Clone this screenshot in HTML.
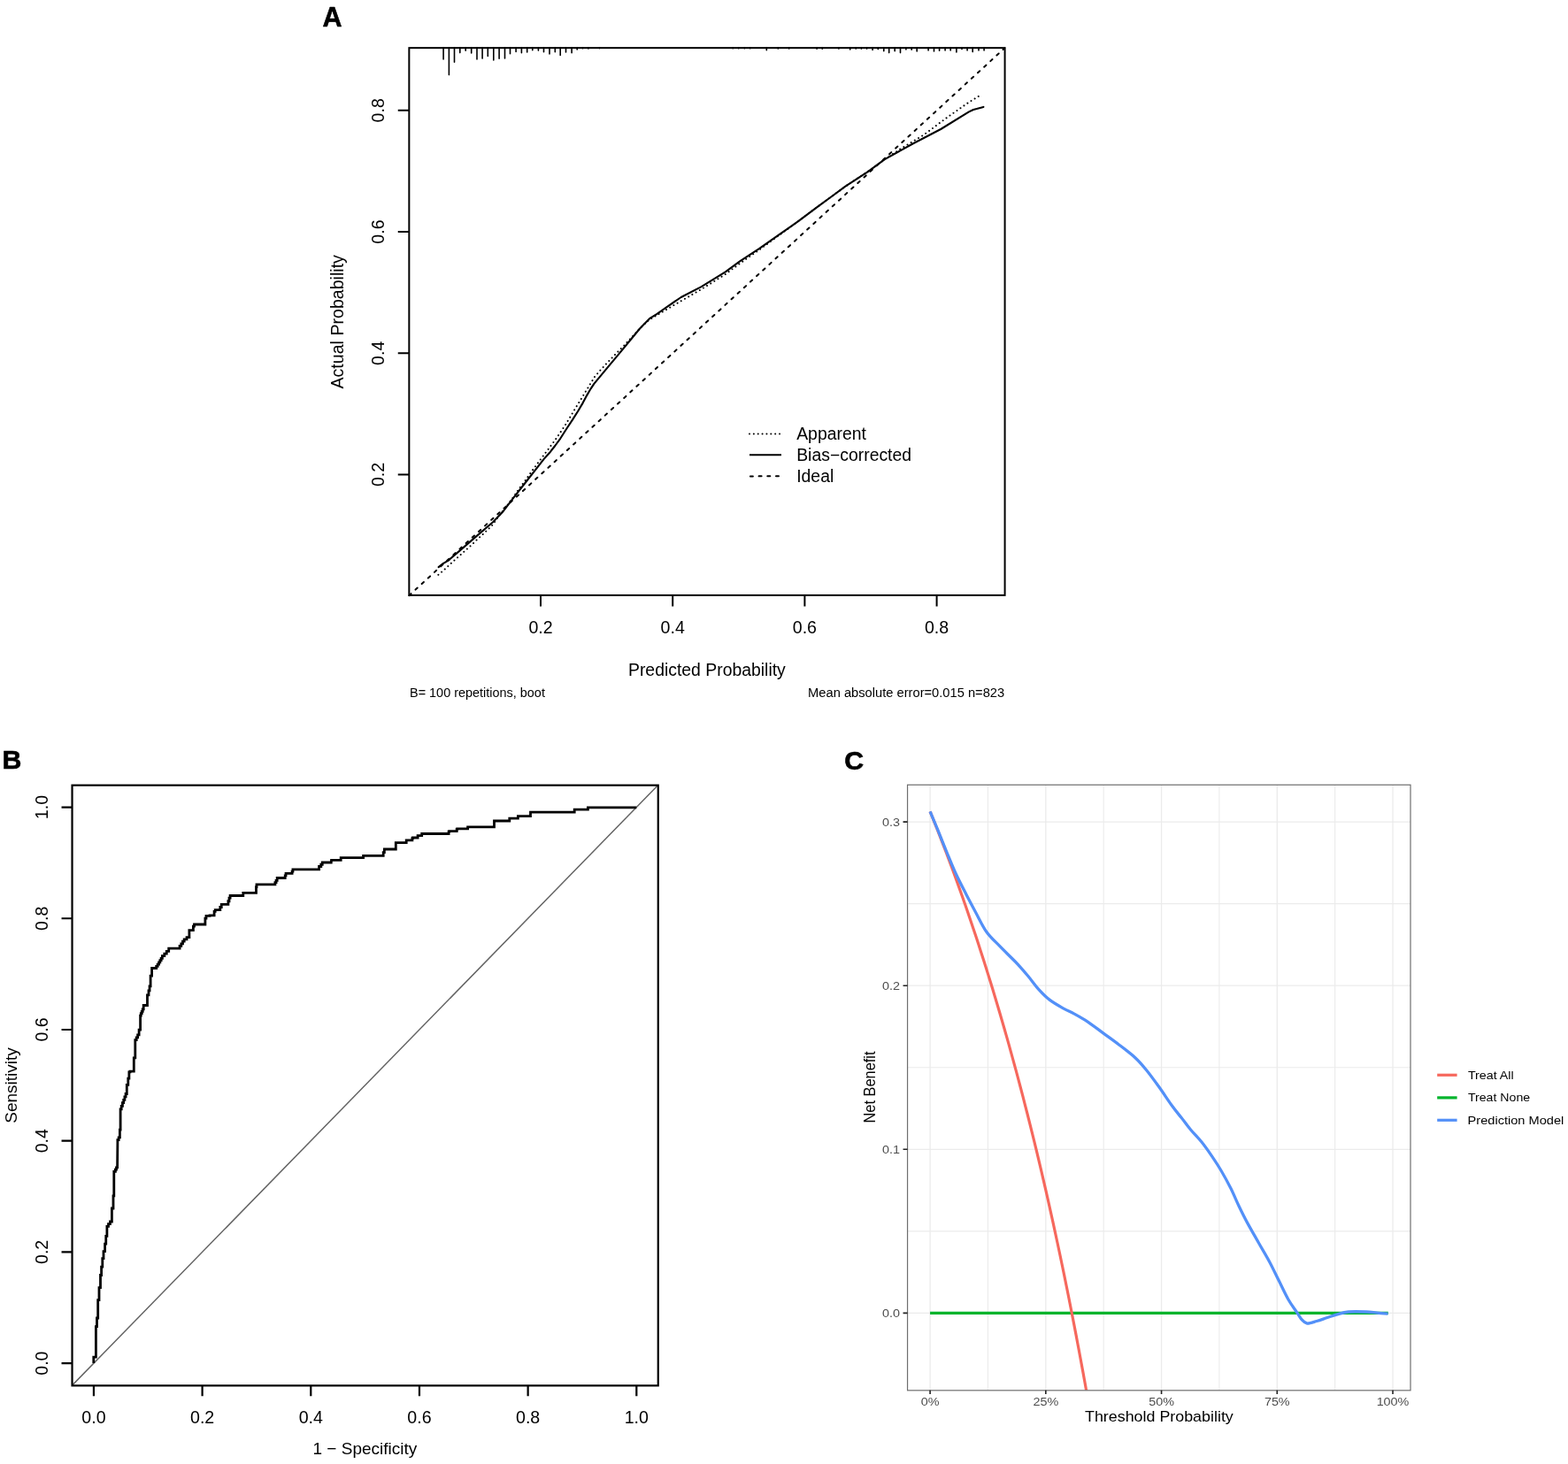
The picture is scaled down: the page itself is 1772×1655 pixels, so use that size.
<!DOCTYPE html>
<html><head><meta charset="utf-8"><title>Figure</title>
<style>
html,body{margin:0;padding:0;background:#fff;}
svg{display:block;}
text{font-family:"Liberation Sans", sans-serif;}
</style></head><body>
<svg width="1772" height="1655" viewBox="0 0 1772 1655">
<rect width="1772" height="1655" fill="#fff"/>
<g id="pa">
<path d="M501.1 54.16V67M507.4 54.16V84.6M513.5 54.16V70.2M519.8 54.16V59.6M526.2 54.16V57.3M532.7 54.16V60M539 54.16V67M545.1 54.16V66.1M551.3 54.16V63.4M557.8 54.16V67.9M564.1 54.16V66.3M570.5 54.16V66M576.5 54.16V60.7M583.1 54.16V58.4M589.4 54.16V59.8M595.7 54.16V58.9M601.8 54.16V56.8M608.4 54.16V57.1M614.5 54.16V58.7M621 54.16V60.9M627.3 54.16V58.7M633.2 54.16V62.5M639.5 54.16V58.9M646.1 54.16V59.7M652.2 54.16V55.9M658.5 54.16V54.8M664.9 54.16V55M677.5 54.16V54.6M828.2 54.16V54.8M834.7 54.16V54.8M841.4 54.16V54.8M847.7 54.16V54.8M866.3 54.16V56.8M879.3 54.16V55M891.7 54.16V55M923.1 54.16V55.3M929.3 54.16V55.3M947.9 54.16V55.1M960.7 54.16V55.9M967.2 54.16V55.1M973.4 54.16V55.1M979.6 54.16V55.1M986.1 54.16V56.5M992.3 54.16V55.6M998.8 54.16V57.7M1004.7 54.16V59.6M1011.2 54.16V57.7M1017.5 54.16V59.6M1023.9 54.16V55.9M1030.2 54.16V56.2M1036.2 54.16V57.9M1049.1 54.16V56.9M1055.5 54.16V57.9M1061.6 54.16V57.3M1068.1 54.16V56.9M1074.2 54.16V56.9M1080.9 54.16V59M1087 54.16V55.6M1093.1 54.16V56.9M1099.2 54.16V58.6M1106 54.16V56.9M1112.1 54.16V56.9" stroke="#000" stroke-width="1.6" fill="none" stroke-linecap="round"/>
<line x1="462.4" y1="673.15" x2="1135.2" y2="54.5" stroke="#000" stroke-width="2" stroke-dasharray="3 6.7" stroke-linecap="round"/>
<polyline points="495.6,641.1 501,636.9 506.7,633.6 520,622.1 535,609.1 557.3,590 568,578.8 580.2,562.8 595,544 614.5,519.1 621.1,511.8 627.2,504 633.2,495.8 639.9,485.3 647.1,474.4 653.2,464.7 658.6,455.6 663.4,446.6 667.7,439.3 671.3,433.9 685,417.4 699,400.6 712.3,384.5 723,371.5 734,360.2 742.5,354.8 754.6,346.3 769.7,336 792.6,324.1 819.8,307.3 836.1,295.3 857.9,281.2 879.6,265.9 901.4,250.7 923.1,234.4 940,222 955.4,210.7 980.8,194.2 999.8,180.2 1031.5,162.5 1063.2,146 1095,126.4 1100,124 1111.4,120.9" fill="none" stroke="#000" stroke-width="2.1" stroke-linejoin="round" stroke-linecap="round"/>
<polyline points="495.4,649.8 502.9,643.3 510.1,636.5 517.4,630 524.6,623.5 531.9,617 539.1,610 546.4,603.4 553.6,596.4 557,593 565.5,581 571.5,573.7 579.4,562.8 586.6,552.6 594.7,541.7 600.4,533.5 606.4,525.4 612.4,517.3 618.4,509.4 624.5,501.3 630.2,493.4 635.6,485.3 641.1,476.8 646.2,468.3 651.4,459.6 656.5,451.4 661.6,443 666.8,434.5 672.2,425.7 678.5,418.5 685.1,411.3 692.1,404 699,396.8 702.6,393.4 712.3,383 721.4,373.2 730.4,364.2 737.7,359 745.8,354.2 754.3,349.3 762.8,344.2 767,341.8 792.6,327 819.8,310 836.1,297.8 857.9,282.5 879.6,266.5 901.4,250.7 923.1,234.4 955.4,210.7 980.8,194 999.8,180 1018.8,167.6 1044.2,152.3 1069.6,133.3 1095,115.5 1107.6,107.9" fill="none" stroke="#000" stroke-width="2" stroke-dasharray="0.01 4.85" stroke-linecap="round" stroke-linejoin="round"/>
<rect x="462.35" y="54.16" width="673.23" height="618.74" fill="none" stroke="#000" stroke-width="2"/>
<path d="M611 672.9V685.5M760.2 672.9V685.5M909.4 672.9V685.5M1058.6 672.9V685.5M462.35 536.48H449.75M462.35 399.26H449.75M462.35 262.04H449.75M462.35 124.82H449.75" stroke="#000" stroke-width="2" fill="none"/>
<text x="611" y="716.2" font-size="19.6" text-anchor="middle" fill="#000">0.2</text>
<text x="760.2" y="716.2" font-size="19.6" text-anchor="middle" fill="#000">0.4</text>
<text x="909.4" y="716.2" font-size="19.6" text-anchor="middle" fill="#000">0.6</text>
<text x="1058.6" y="716.2" font-size="19.6" text-anchor="middle" fill="#000">0.8</text>
<text x="434.5" y="536.48" font-size="19.6" text-anchor="middle" fill="#000" transform="rotate(-90 434.5 536.48)">0.2</text>
<text x="434.5" y="399.26" font-size="19.6" text-anchor="middle" fill="#000" transform="rotate(-90 434.5 399.26)">0.4</text>
<text x="434.5" y="262.04" font-size="19.6" text-anchor="middle" fill="#000" transform="rotate(-90 434.5 262.04)">0.6</text>
<text x="434.5" y="124.82" font-size="19.6" text-anchor="middle" fill="#000" transform="rotate(-90 434.5 124.82)">0.8</text>
<text x="798.9" y="763.9" font-size="19.4" text-anchor="middle" fill="#000">Predicted Probability</text>
<text x="387.7" y="363.8" font-size="19.6" text-anchor="middle" fill="#000" transform="rotate(-90 387.7 363.8)">Actual Probability</text>
<text x="463" y="788.1" font-size="14.45" text-anchor="start" fill="#000">B= 100 repetitions, boot</text>
<text x="1135.2" y="788.3" font-size="14.7" text-anchor="end" fill="#000">Mean absolute error=0.015 n=823</text>
<text x="364.5" y="30" font-size="30.5" text-anchor="start" fill="#000" font-weight="bold" stroke="#000" stroke-width="0.6" stroke-linejoin="round">A</text>
<line x1="847" y1="490.5" x2="883" y2="490.5" stroke="#000" stroke-width="2" stroke-dasharray="0.01 4.85" stroke-linecap="round"/>
<line x1="847" y1="514.3" x2="883" y2="514.3" stroke="#000" stroke-width="2.1"/>
<line x1="847.9" y1="538.4" x2="883" y2="538.3" stroke="#000" stroke-width="2" stroke-dasharray="3 6.7" stroke-linecap="round"/>
<text x="900.2" y="497.4" font-size="19.4" text-anchor="start" fill="#000">Apparent</text>
<text x="900.2" y="521.1" font-size="19.4" text-anchor="start" fill="#000">Bias−corrected</text>
<text x="900.2" y="545.1" font-size="19.4" text-anchor="start" fill="#000">Ideal</text>
</g>
<g id="pb">
<line x1="81.53" y1="1566.12" x2="743.72" y2="887.54" stroke="#626262" stroke-width="1.45"/>
<polyline points="105.8,1540.9 105.8,1534.2 108.4,1534.2 108.4,1513.7 108.4,1499.6 109.5,1499.6 109.5,1490 110.7,1490 110.7,1469.7 112,1469.7 112,1455.6 113.5,1455.6 113.5,1441.5 114.6,1441.5 114.6,1432.05 115.8,1432.05 115.8,1422.6 117,1422.6 117,1414.7 118.6,1414.7 118.6,1406.05 119.75,1406.05 119.75,1397.4 120.9,1397.4 120.9,1386.4 122.5,1386.4 122.5,1383.7 124.45,1383.7 124.45,1381 126.4,1381 126.4,1366 128,1366 128,1351.9 128.8,1351.9 128.8,1324.4 130.4,1324.4 130.4,1322.1 131.5,1322.1 131.5,1319.8 132.6,1319.8 132.9,1291.6 132.9,1288.7 134.15,1288.7 134.15,1285.8 135.4,1285.8 135.4,1277.1 136.1,1277.1 136.1,1253.9 137.2,1253.9 137.2,1250.3 138.45,1250.3 138.45,1246.7 139.7,1246.7 139.7,1243.3 140.9,1243.3 140.9,1239.9 142.1,1239.9 142.1,1236.5 143.3,1236.5 143.3,1226.4 144.8,1226.4 144.8,1219.15 145.9,1219.15 145.9,1211.9 147,1211.9 147,1211.2 151.3,1211.2 151.3,1195.9 152.8,1195.9 152.8,1175.7 154.2,1175.7 154.2,1172.8 155.65,1172.8 155.65,1169.9 157.1,1169.9 157.1,1164.1 158.6,1164.1 158.6,1148.1 159.3,1148.1 159.3,1145.7 160.27,1145.7 160.27,1143.3 161.23,1143.3 161.23,1140.9 162.2,1140.9 162.2,1136.5 163.6,1136.5 166.5,1136.5 166.5,1124.9 168,1124.9 168,1119.85 169.05,1119.85 169.05,1114.8 170.1,1114.8 170.1,1103.2 171.6,1103.2 171.6,1094.5 172.3,1094.5 176.7,1094.5 176.7,1092.3 178.15,1092.3 178.15,1090.1 179.6,1090.1 179.6,1087.83 180.87,1087.83 180.87,1085.57 182.13,1085.57 182.13,1083.3 183.4,1083.3 183.4,1080.67 185.83,1080.67 185.83,1078.03 188.27,1078.03 188.27,1075.4 190.7,1075.4 190.7,1072.1 203.1,1072.1 203.1,1069.47 204.8,1069.47 204.8,1066.83 206.5,1066.83 206.5,1064.2 208.2,1064.2 208.2,1061.9 211.05,1061.9 211.05,1059.6 213.9,1059.6 213.9,1052.3 213.9,1051.7 218.4,1051.7 218.4,1047.2 219.5,1047.2 219.5,1045 225.1,1045 231.9,1045 231.9,1038.2 233,1038.2 233,1035.4 237,1035.4 237,1034.8 242.1,1034.8 242.1,1030.3 243.2,1030.3 243.2,1028.6 248.8,1028.6 248.8,1025.5 250.25,1025.5 250.25,1022.4 251.7,1022.4 257.9,1022.4 257.9,1018.75 259,1018.75 259,1015.1 260.1,1015.1 260.1,1012.5 264.6,1012.5 274.8,1012.5 274.8,1009.4 275.9,1009.4 289.5,1009.4 289.5,1002.6 290,1002.6 290,999.8 292.9,999.8 310.9,999.8 310.9,997.55 312.05,997.55 312.05,995.3 313.2,995.3 313.2,992.5 322.2,992.5 322.2,989.95 323.05,989.95 323.05,987.4 323.9,987.4 330.1,987.4 330.1,985.15 330.95,985.15 330.95,982.9 331.8,982.9 360.6,982.9 360.6,979.5 362.8,979.5 362.8,977.25 364.25,977.25 364.25,975 365.7,975 374.3,975 374.5,972.4 385.2,972.4 385.2,969.6 385.8,969.6 410.6,969.6 410.6,967.3 411.2,967.3 433.2,967.3 433.2,963.65 434.35,963.65 434.35,960 435.5,960 447.3,960 447.3,952.6 447.9,952.6 459.2,952.6 459.2,949.8 459.7,949.8 465.9,949.8 465.9,947.6 466.5,947.6 466.5,947 472.1,947 472.1,944.7 473.3,944.7 476.7,944.7 476.7,942.5 477.2,942.5 507.1,942.5 507.1,940.2 507.7,940.2 507.7,939.7 516.2,939.7 516.2,937.4 516.7,937.4 516.7,936.8 528.6,936.8 528.6,934.9 529.1,934.9 558.5,934.9 558.5,928 559.1,928 575.8,928 575.8,925.1 576.4,925.1 585.4,925.1 585.4,922.7 586,922.7 599.5,922.7 599.5,918.1 600.1,918.1 649.2,918.1 649.2,915.2 649.7,915.2 664.4,915.2 664.4,912.8 665,912.8 719.3,912.8" fill="none" stroke="#000" stroke-width="2.8" stroke-linejoin="miter"/>
<rect x="81.54" y="887.7" width="662.21" height="678.67" fill="none" stroke="#000" stroke-width="2.2"/>
<path d="M105.94 1566.37V1578.37M81.54 1541.1H69.54M228.61 1566.37V1578.37M81.54 1415.39H69.54M351.29 1566.37V1578.37M81.54 1289.68H69.54M473.96 1566.37V1578.37M81.54 1163.98H69.54M596.64 1566.37V1578.37M81.54 1038.27H69.54M719.31 1566.37V1578.37M81.54 912.56H69.54" stroke="#000" stroke-width="2.2" fill="none"/>
<text x="105.94" y="1608.7" font-size="19.6" text-anchor="middle" fill="#000">0.0</text>
<text x="54" y="1541.1" font-size="19.6" text-anchor="middle" fill="#000" transform="rotate(-90 54 1541.1)">0.0</text>
<text x="228.61" y="1608.7" font-size="19.6" text-anchor="middle" fill="#000">0.2</text>
<text x="54" y="1415.39" font-size="19.6" text-anchor="middle" fill="#000" transform="rotate(-90 54 1415.39)">0.2</text>
<text x="351.29" y="1608.7" font-size="19.6" text-anchor="middle" fill="#000">0.4</text>
<text x="54" y="1289.68" font-size="19.6" text-anchor="middle" fill="#000" transform="rotate(-90 54 1289.68)">0.4</text>
<text x="473.96" y="1608.7" font-size="19.6" text-anchor="middle" fill="#000">0.6</text>
<text x="54" y="1163.98" font-size="19.6" text-anchor="middle" fill="#000" transform="rotate(-90 54 1163.98)">0.6</text>
<text x="596.64" y="1608.7" font-size="19.6" text-anchor="middle" fill="#000">0.8</text>
<text x="54" y="1038.27" font-size="19.6" text-anchor="middle" fill="#000" transform="rotate(-90 54 1038.27)">0.8</text>
<text x="719.31" y="1608.7" font-size="19.6" text-anchor="middle" fill="#000">1.0</text>
<text x="54" y="912.56" font-size="19.6" text-anchor="middle" fill="#000" transform="rotate(-90 54 912.56)">1.0</text>
<text x="412.4" y="1643.8" font-size="19" text-anchor="middle" fill="#000">1 − Specificity</text>
<text x="19" y="1227" font-size="19" text-anchor="middle" fill="#000" transform="rotate(-90 19 1227)">Sensitivity</text>
<text x="2.6" y="869.4" font-size="30.3" text-anchor="start" fill="#000" font-weight="bold" stroke="#000" stroke-width="0.6" stroke-linejoin="round">B</text>
</g>
<g id="pc">
<rect x="1025.55" y="887.25" width="568.45" height="684.55" fill="#fff"/>
<path d="M1116.46 887.25V1571.8M1247.19 887.25V1571.8M1377.91 887.25V1571.8M1508.64 887.25V1571.8M1025.55 1391.85H1594M1025.55 1206.75H1594M1025.55 1021.65H1594" stroke="#EBEBEB" stroke-width="1.1" fill="none"/>
<path d="M1051.1 887.25V1571.8M1181.82 887.25V1571.8M1312.55 887.25V1571.8M1443.27 887.25V1571.8M1574 887.25V1571.8M1025.55 1484.4H1594M1025.55 1299.3H1594M1025.55 1114.2H1594M1025.55 929.1H1594" stroke="#EBEBEB" stroke-width="1.3" fill="none"/>
<line x1="1051.1" y1="1484.4" x2="1568.7" y2="1484.4" stroke="#00B42C" stroke-width="3.2"/>
<clipPath id="cc"><rect x="1025.55" y="887.25" width="568.45" height="684.55"/></clipPath>
<polyline clip-path="url(#cc)" points="1051.1,917.44 1053.71,923.89 1056.33,930.41 1058.94,936.99 1061.56,943.64 1064.17,950.36 1066.79,957.15 1069.4,964.01 1072.02,970.94 1074.63,977.94 1077.24,985.02 1079.86,992.17 1082.47,999.4 1085.09,1006.7 1087.7,1014.09 1090.32,1021.55 1092.93,1029.09 1095.55,1036.72 1098.16,1044.43 1100.78,1052.23 1103.39,1060.11 1106,1068.08 1108.62,1076.14 1111.23,1084.29 1113.85,1092.53 1116.46,1100.87 1119.08,1109.31 1121.69,1117.84 1124.31,1126.47 1126.92,1135.2 1129.53,1144.03 1132.15,1152.97 1134.76,1162.02 1137.38,1171.17 1139.99,1180.43 1142.61,1189.81 1145.22,1199.3 1147.84,1208.91 1150.45,1218.63 1153.07,1228.48 1155.68,1238.45 1158.29,1248.54 1160.91,1258.77 1163.52,1269.12 1166.14,1279.6 1168.75,1290.22 1171.37,1300.98 1173.98,1311.88 1176.6,1322.92 1179.21,1334.11 1181.83,1345.45 1184.44,1356.94 1187.05,1368.59 1189.67,1380.39 1192.28,1392.36 1194.9,1404.49 1197.51,1416.79 1200.13,1429.26 1202.74,1441.91 1205.36,1454.73 1207.97,1467.74 1210.58,1480.94 1213.2,1494.33 1215.81,1507.91 1218.43,1521.69 1221.04,1535.68 1223.66,1549.88 1226.27,1564.29 1228.89,1578.91" fill="none" stroke="#F6685D" stroke-width="3.2" stroke-linejoin="round"/>
<path d="M1051.1 917.4C1052.67 921.15 1057.32 932.13 1060.5 939.9C1063.68 947.67 1066.97 956.15 1070.2 964C1073.43 971.85 1076.27 979.13 1079.9 987C1083.53 994.87 1088.18 1003.75 1092 1011.2C1095.82 1018.65 1098.98 1024.65 1102.8 1031.7C1106.62 1038.75 1110.47 1047.25 1114.9 1053.5C1119.33 1059.75 1124.77 1064.37 1129.4 1069.2C1134.03 1074.03 1139.27 1079.05 1142.7 1082.5C1146.13 1085.95 1146.77 1086.35 1150 1089.9C1153.23 1093.45 1158.07 1098.97 1162.1 1103.8C1166.13 1108.63 1170.17 1114.47 1174.2 1118.9C1178.23 1123.33 1181.67 1126.87 1186.3 1130.4C1190.93 1133.93 1197.38 1137.48 1202 1140.1C1206.62 1142.72 1209.58 1143.68 1214 1146.1C1218.42 1148.52 1223.05 1150.97 1228.5 1154.6C1233.95 1158.23 1240.65 1163.47 1246.7 1167.9C1252.75 1172.33 1258.77 1176.57 1264.8 1181.2C1270.83 1185.83 1277.87 1191.07 1282.9 1195.7C1287.93 1200.33 1290.57 1203.57 1295 1209C1299.43 1214.43 1304.58 1221.47 1309.5 1228.3C1314.42 1235.13 1320.23 1244.12 1324.5 1250C1328.77 1255.88 1331.57 1259.07 1335.1 1263.6C1338.63 1268.13 1341.92 1272.67 1345.7 1277.2C1349.48 1281.73 1353.78 1285.77 1357.8 1290.8C1361.82 1295.83 1366.03 1301.87 1369.8 1307.4C1373.57 1312.93 1376.87 1317.97 1380.4 1324C1383.93 1330.03 1387.73 1337.05 1391 1343.6C1394.27 1350.15 1396.98 1357 1400 1363.3C1403.02 1369.6 1405.32 1374.37 1409.1 1381.4C1412.88 1388.43 1418.42 1397.95 1422.7 1405.5C1426.98 1413.05 1431.03 1419.65 1434.8 1426.7C1438.57 1433.75 1441.78 1440.75 1445.3 1447.8C1448.82 1454.85 1452.62 1463.2 1455.9 1469C1459.18 1474.8 1462.48 1478.83 1465 1482.6C1467.52 1486.37 1468.98 1489.37 1471 1491.6C1473.02 1493.83 1474.27 1495.68 1477.1 1496C1479.93 1496.32 1484.32 1494.53 1488 1493.5C1491.68 1492.47 1495.47 1491.03 1499.2 1489.8C1502.93 1488.57 1506.27 1487.23 1510.4 1486.1C1514.53 1484.97 1518.42 1483.52 1524 1483C1529.58 1482.48 1538.52 1482.8 1543.9 1483C1549.28 1483.2 1552.2 1483.83 1556.3 1484.2C1560.4 1484.57 1566.47 1485.03 1568.5 1485.2" fill="none" stroke="#5390F8" stroke-width="3.3" stroke-linejoin="round"/>
<rect x="1025.55" y="887.25" width="568.45" height="684.55" fill="none" stroke="#6e6e6e" stroke-width="1.2"/>
<path d="M1051.1 1571.8V1576.1M1181.82 1571.8V1576.1M1312.55 1571.8V1576.1M1443.27 1571.8V1576.1M1574 1571.8V1576.1M1025.55 1484.4H1020.55M1025.55 1299.3H1020.55M1025.55 1114.2H1020.55M1025.55 929.1H1020.55" stroke="#222222" stroke-width="1.6" fill="none"/>
<text x="1051.1" y="1589" font-size="12.6" text-anchor="middle" fill="#4D4D4D" transform="translate(1051.1 1589) scale(1.14 1) translate(-1051.1 -1589)">0%</text>
<text x="1181.82" y="1589" font-size="12.6" text-anchor="middle" fill="#4D4D4D" transform="translate(1181.82 1589) scale(1.14 1) translate(-1181.82 -1589)">25%</text>
<text x="1312.55" y="1589" font-size="12.6" text-anchor="middle" fill="#4D4D4D" transform="translate(1312.55 1589) scale(1.14 1) translate(-1312.55 -1589)">50%</text>
<text x="1443.27" y="1589" font-size="12.6" text-anchor="middle" fill="#4D4D4D" transform="translate(1443.27 1589) scale(1.14 1) translate(-1443.27 -1589)">75%</text>
<text x="1574" y="1589" font-size="12.6" text-anchor="middle" fill="#4D4D4D" transform="translate(1574 1589) scale(1.14 1) translate(-1574 -1589)">100%</text>
<text x="1016.9" y="1489" font-size="12.6" text-anchor="end" fill="#4D4D4D" transform="translate(1016.9 1489) scale(1.14 1) translate(-1016.9 -1489)">0.0</text>
<text x="1016.9" y="1303.9" font-size="12.6" text-anchor="end" fill="#4D4D4D" transform="translate(1016.9 1303.9) scale(1.14 1) translate(-1016.9 -1303.9)">0.1</text>
<text x="1016.9" y="1118.8" font-size="12.6" text-anchor="end" fill="#4D4D4D" transform="translate(1016.9 1118.8) scale(1.14 1) translate(-1016.9 -1118.8)">0.2</text>
<text x="1016.9" y="933.7" font-size="12.6" text-anchor="end" fill="#4D4D4D" transform="translate(1016.9 933.7) scale(1.14 1) translate(-1016.9 -933.7)">0.3</text>
<text x="1309.9" y="1607.3" font-size="16" text-anchor="middle" fill="#000" transform="translate(1309.9 1607.3) scale(1.117 1) translate(-1309.9 -1607.3)">Threshold Probability</text>
<text x="988.8" y="1229" font-size="16.4" text-anchor="middle" fill="#000" transform="translate(988.8 1229) scale(1.12 1) rotate(-90) translate(-988.8 -1229)">Net Benefit</text>
<line x1="1624.2" y1="1215.3" x2="1646.6" y2="1215.3" stroke="#F6685D" stroke-width="3.2"/>
<line x1="1624.2" y1="1240.9" x2="1646.6" y2="1240.9" stroke="#00B42C" stroke-width="3.2"/>
<line x1="1624.2" y1="1266.3" x2="1646.6" y2="1266.3" stroke="#5390F8" stroke-width="3.2"/>
<text x="1658.9" y="1220.1" font-size="12.7" text-anchor="start" fill="#000" transform="translate(1658.9 1220.1) scale(1.125 1) translate(-1658.9 -1220.1)">Treat All</text>
<text x="1658.9" y="1245.5" font-size="12.7" text-anchor="start" fill="#000" transform="translate(1658.9 1245.5) scale(1.114 1) translate(-1658.9 -1245.5)">Treat None</text>
<text x="1658.6" y="1270.9" font-size="12.7" text-anchor="start" fill="#000" transform="translate(1658.6 1270.9) scale(1.15 1) translate(-1658.6 -1270.9)">Prediction Model</text>
<text x="954.2" y="869.7" font-size="30.3" text-anchor="start" fill="#000" font-weight="bold" stroke="#000" stroke-width="0.6" stroke-linejoin="round">C</text>
</g>
</svg>
</body></html>
